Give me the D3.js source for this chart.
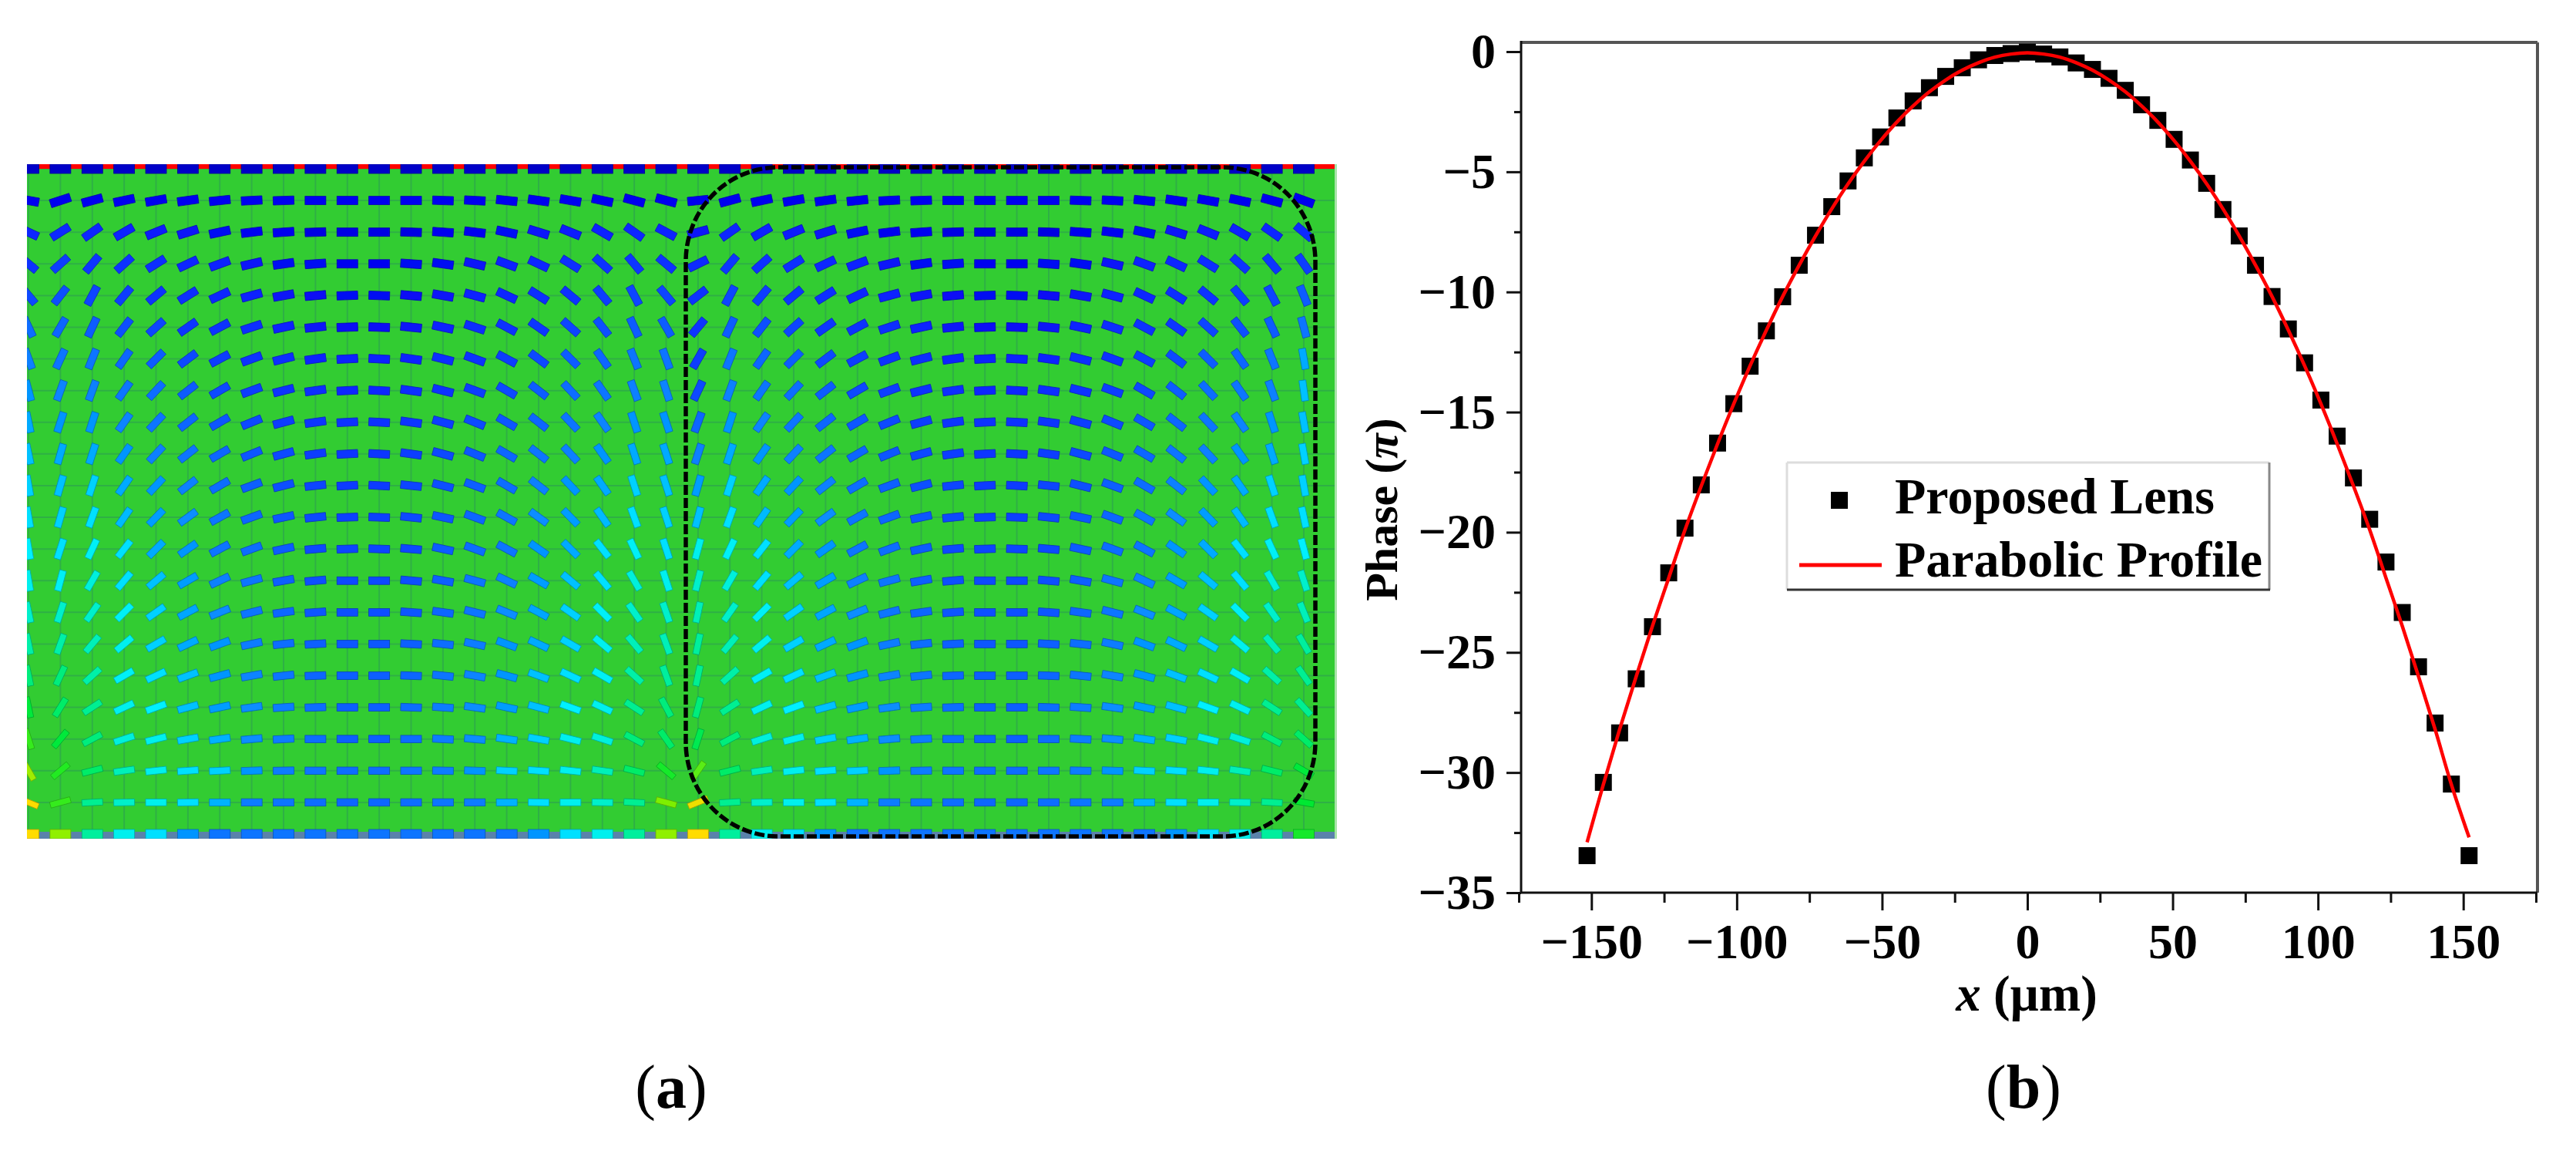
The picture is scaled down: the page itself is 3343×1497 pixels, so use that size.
<!DOCTYPE html>
<html><head><meta charset="utf-8">
<script src="https://cdn.jsdelivr.net/npm/d3@7/dist/d3.min.js"></script>
<style>
html,body{margin:0;padding:0;background:#fff}
text{font-family:"Liberation Serif","Times New Roman",serif;fill:#000}
</style></head><body>
<svg id="c" width="3343" height="1497" viewBox="0 0 3343 1497"></svg>
<script>
// ---------- panel (b) data ----------
const lensX = [-151.5,-145.9,-140.3,-134.6,-129.0,-123.4,-117.8,-112.2,-106.6,-101.0,-95.4,-89.8,-84.2,-78.5,-72.9,-67.3,-61.7,-56.1,-50.5,-44.9,-39.3,-33.7,-28.1,-22.4,-16.8,-11.2,-5.6,0,5.6,11.2,16.8,22.4,28.1,33.7,39.3,44.9,50.5,56.1,61.7,67.3,72.9,78.5,84.2,89.8,95.4,101.0,106.6,112.2,117.8,123.4,129.0,134.6,140.3,145.9,152.0];
const lensPhase = [-33.46,-30.41,-28.35,-26.10,-23.93,-21.69,-19.83,-18.03,-16.29,-14.65,-13.09,-11.62,-10.20,-8.89,-7.64,-6.45,-5.38,-4.42,-3.55,-2.76,-2.05,-1.50,-1.03,-0.67,-0.34,-0.16,-0.08,-0.02,-0.10,-0.22,-0.47,-0.74,-1.11,-1.61,-2.21,-2.86,-3.65,-4.51,-5.48,-6.57,-7.67,-8.89,-10.19,-11.54,-12.95,-14.50,-16.00,-17.74,-19.46,-21.24,-23.34,-25.60,-27.94,-30.48,-33.46];
const profileX = lensX;
const profilePhase = [-32.9,-30.5,-28.2,-26.0,-23.9,-21.9,-19.9,-18.07,-16.32,-14.65,-13.07,-11.59,-10.19,-8.88,-7.67,-6.54,-5.50,-4.56,-3.70,-2.93,-2.26,-1.67,-1.18,-0.77,-0.46,-0.23,-0.10,-0.05,-0.10,-0.23,-0.46,-0.77,-1.18,-1.67,-2.26,-2.93,-3.70,-4.56,-5.50,-6.54,-7.67,-8.88,-10.19,-11.59,-13.07,-14.65,-16.32,-18.07,-19.9,-21.9,-23.9,-26.0,-28.2,-30.5,-32.7];
const xMajor = [-150,-100,-50,0,50,100,150];
const xMinor = [-175,-125,-75,-25,25,75,125,175];
const yMajor = [0,-5,-10,-15,-20,-25,-30,-35];
const yMinor = [-2.5,-7.5,-12.5,-17.5,-22.5,-27.5,-32.5];
const legendLabels = ["Proposed Lens","Parabolic Profile"];

// ---------- panel (a) data: tilt in degrees and colour level of each antenna ----------
// one row per grid row, ten columns for the left half of a cell (the right half mirrors them)
const tiltRows = [
[0,0,0,0,0,0,0,0,0,0],
[6,15,12,10,8,6,3,2,0,0],
[15,35,30,22,17,12,7,4,2,0],
[26,50,42,32,25,20,13,8,4,0],
[38,62,50,40,32,25,15,10,5,2],
[50,65,52,42,35,28,18,12,6,2],
[60,68,55,45,37,28,20,14,8,3],
[65,70,55,47,38,30,20,14,8,3],
[70,72,55,47,38,30,22,15,8,3],
[72,72,55,47,38,30,22,15,8,3],
[74,72,55,47,38,30,20,14,6,3],
[75,70,55,46,36,29,20,12,6,2],
[75,65,52,45,35,28,20,12,5,2],
[76,60,50,40,30,25,15,10,5,0],
[78,55,45,35,28,22,14,8,4,0],
[78,50,40,30,25,20,12,6,3,0],
[78,42,30,25,20,15,10,6,2,0],
[75,33,25,20,15,12,8,4,2,0],
[72,28,18,14,10,8,5,3,0,0],
[55,14,8,6,4,3,2,1,0,0],
[22,3,1,0,1,0,0,0,0,0],
[0,0,0,0,0,0,0,0,0,0]];
const levelRows = [
[0,0,0,0,0,0,0,0,0,0],
[.03,.03,.03,.03,.03,.03,.03,.03,.03,.03],
[.08,.15,.12,.1,.08,.05,.03,.03,.02,.02],
[.16,.22,.2,.18,.15,.12,.08,.05,.04,.03],
[.2,.28,.25,.2,.18,.15,.12,.08,.06,.05],
[.22,.35,.32,.28,.22,.2,.18,.12,.08,.06],
[.25,.42,.38,.35,.3,.25,.2,.18,.14,.12],
[.3,.45,.42,.4,.35,.3,.25,.2,.18,.15],
[.38,.5,.46,.42,.38,.34,.3,.25,.22,.2],
[.45,.55,.5,.45,.42,.38,.34,.3,.25,.22],
[.52,.6,.55,.5,.45,.4,.36,.32,.28,.24],
[.58,.62,.57,.52,.48,.42,.38,.34,.3,.26],
[.66,.65,.62,.55,.5,.42,.4,.35,.3,.28],
[.7,.68,.62,.58,.52,.45,.42,.36,.32,.3],
[.72,.7,.65,.6,.54,.48,.42,.38,.34,.32],
[.75,.72,.66,.6,.55,.5,.44,.4,.36,.34],
[.76,.74,.65,.62,.58,.5,.46,.42,.38,.36],
[.78,.76,.66,.64,.58,.52,.48,.44,.4,.36],
[.82,.78,.68,.66,.6,.56,.48,.44,.4,.36],
[.9,.8,.72,.66,.62,.6,.5,.44,.42,.4],
[.99,.76,.7,.66,.62,.56,.44,.42,.4,.38],
[1,.75,.66,.62,.5,.42,.42,.42,.42,.42]];
// columns that do not follow the repeating cell
const tiltEdge = {
 0:[0,-10,-25,-40,-50,-65,-70,-75,-78,-78,-80,-80,-80,-80,-78,-78,-78,-78,-72,-60,-22,0],
 1:[0,18,32,42,52,60,65,70,72,74,74,74,72,75,72,70,65,58,50,40,15,0],
 20:[0,-15,-28,-40,-50,-60,-70,-72,-72,-72,-72,-72,-72,-72,-71,-70,-70,-62,-55,-40,-15,0],
 40:[0,-20,-40,-55,-68,-75,-80,-82,-80,-80,-80,-78,-75,-72,-68,-60,-55,-48,-42,-30,-10,0]};
const levelEdge = {
 0:[0,.03,.15,.2,.3,.4,.45,.5,.55,.58,.6,.62,.64,.66,.7,.74,.78,.84,.88,.94,1,1],
 1:[0,.03,.17,.25,.32,.38,.42,.46,.5,.55,.58,.6,.62,.65,.7,.74,.78,.8,.84,.87,.88,.93],
 20:[0,.03,.14,.2,.28,.35,.42,.46,.5,.55,.58,.6,.62,.66,.7,.72,.75,.78,.8,.86,.92,.93],
 40:[0,.03,.17,.25,.35,.42,.55,.58,.58,.6,.6,.62,.64,.7,.72,.75,.76,.76,.8,.84,.85,.86]};
const columns = d3.range(0,41);
const rows = d3.range(0,22);
const levelStops = [0,.03,.12,.3,.45,.55,.64,.74,.85,.93,1];
const levelColors = ["#0000c8","#0505f0","#0a20ff","#0a48ff","#0a80ff","#00aaff","#00f0ff","#00f0a8","#00e830","#90f000","#ffdc00"];

// ---------- drawing ----------
const svg = d3.select("#c");
const defs = svg.append("defs");
defs.append("filter").attr("id","soft").attr("x","-5%").attr("y","-5%").attr("width","110%").attr("height","110%")
  .append("feGaussianBlur").attr("stdDeviation",0.6);
defs.append("clipPath").attr("id","panel").append("rect").attr("x",35).attr("y",213).attr("width",1700).attr("height",875);

const colX = d3.scaleLinear().domain([0,40]).range([37,1692]);
const rowY = d3.scaleLinear().domain([0,21]).range([219,1082]);
const levelColor = d3.scaleLinear().domain(levelStops).range(levelColors);

function cellIndex(c){const k=((c-1)%20+20)%20; return k<10?k:19-k;}
function tiltAt(r,c){ if(tiltEdge[c]) return tiltEdge[c][r]; const k=((c-1)%20+20)%20; return (k<10?1:-1)*tiltRows[r][cellIndex(c)]; }
function levelAt(r,c){ return levelEdge[c]?levelEdge[c][r]:levelRows[r][cellIndex(c)]; }

const a = svg.append("g").attr("clip-path","url(#panel)").attr("filter","url(#soft)");
a.append("rect").attr("x",35).attr("y",213).attr("width",1700).attr("height",875).attr("fill","#33cc33");
a.selectAll("line.gv").data(columns).join("line").attr("x1",colX).attr("x2",colX).attr("y1",219).attr("y2",1088)
  .attr("stroke","#2fb045").attr("stroke-width",2);
a.selectAll("line.gh").data(rows).join("line").attr("y1",rowY).attr("y2",rowY).attr("x1",35).attr("x2",1735)
  .attr("stroke","#2fb045").attr("stroke-width",2);
a.append("rect").attr("x",35).attr("y",213).attr("width",1700).attr("height",6).attr("fill","#ff0000");
a.append("rect").attr("x",35).attr("y",1079).attr("width",1700).attr("height",9).attr("fill","#5a82ab");
a.append("rect").attr("x",1732).attr("y",213).attr("width",3).attr("height",875).attr("fill","#a8e4a8");

const cells = rows.flatMap(r=>columns.map(c=>({r,c,tilt:tiltAt(r,c),level:levelAt(r,c)})));
const thick = d => (d.r===0||d.r===21) ? 12 : 11-3.5*d.level;
a.selectAll("rect.bar").data(cells).join("rect").attr("class","bar")
  .attr("x",-13.5).attr("width",27)
  .attr("y",d=>-thick(d)/2)
  .attr("height",thick)
  .attr("transform",d=>`translate(${colX(d.c)},${rowY(d.r)}) rotate(${-d.tilt})`)
  .attr("fill",d=>levelColor(d.level))
  .attr("stroke",d=>d3.color(levelColor(d.level)).darker(.9))
  .attr("stroke-width",0.8);

svg.append("rect").attr("x",890).attr("y",217).attr("width",817).attr("height",868).attr("rx",120).attr("ry",122)
  .attr("fill","none").attr("stroke","#000").attr("stroke-width",5.5).attr("stroke-dasharray","13 4");

// panel (b)
const L=1974,R=3293,T=55,B=1158;
const x = d3.scaleLinear().domain([-175,175]).range([L-3,R-2]);
const y = d3.scaleLinear().domain([0,-35]).range([67,B]);
const b = svg.append("g");
const tickFmt = v => String(v).replace("-","\u2212");
const fs = 64;
function styleAxis(g){ g.select(".domain").remove(); g.selectAll(".tick line").attr("stroke","#111").attr("stroke-width",3);
  g.selectAll("text").attr("font-size",fs).attr("font-weight","bold").attr("font-family",'"Liberation Serif",serif').attr("fill","#000"); }
b.append("g").attr("transform",`translate(0,${B})`).call(d3.axisBottom(x).tickValues(xMinor).tickSize(13).tickFormat("")).call(styleAxis);
b.append("g").attr("transform",`translate(0,${B})`).call(d3.axisBottom(x).tickValues(xMajor).tickSize(23).tickPadding(17).tickFormat(tickFmt)).call(styleAxis);
b.append("g").attr("transform",`translate(${L},0)`).call(d3.axisLeft(y).tickValues(yMinor).tickSize(9).tickFormat("")).call(styleAxis);
b.append("g").attr("transform",`translate(${L},0)`).call(d3.axisLeft(y).tickValues(yMajor).tickSize(19).tickPadding(14).tickFormat(tickFmt)).call(styleAxis);
b.append("line").attr("x1",L).attr("x2",R).attr("y1",T).attr("y2",T).attr("stroke","#555").attr("stroke-width",4);
b.append("line").attr("x1",R).attr("x2",R).attr("y1",T).attr("y2",B).attr("stroke","#555").attr("stroke-width",4);
b.append("line").attr("x1",L).attr("x2",L).attr("y1",T-2).attr("y2",B).attr("stroke","#111").attr("stroke-width",3);
b.append("line").attr("x1",L).attr("x2",R).attr("y1",B).attr("y2",B).attr("stroke","#111").attr("stroke-width",3);

const sq = 22;
b.selectAll("rect.pt").data(lensX.map((v,i)=>[v,lensPhase[i]])).join("rect").attr("class","pt")
  .attr("x",d=>x(d[0])-sq/2).attr("y",d=>y(d[1])-sq/2).attr("width",sq).attr("height",sq).attr("fill","#000");
b.append("path").attr("d",d3.line().x(d=>x(d[0])).y(d=>y(d[1])).curve(d3.curveCatmullRom)(profileX.map((v,i)=>[v,profilePhase[i]])))
  .attr("fill","none").attr("stroke","#ff0000").attr("stroke-width",4.5);

// legend
const lg = b.append("g");
lg.append("line").attr("x1",2319).attr("x2",2945).attr("y1",600).attr("y2",600).attr("stroke","#ddd").attr("stroke-width",3);
lg.append("line").attr("x1",2319).attr("x2",2319).attr("y1",600).attr("y2",765).attr("stroke","#ddd").attr("stroke-width",3);
lg.append("line").attr("x1",2945).attr("x2",2945).attr("y1",600).attr("y2",765).attr("stroke","#888").attr("stroke-width",3);
lg.append("line").attr("x1",2319).attr("x2",2946).attr("y1",765).attr("y2",765).attr("stroke","#333").attr("stroke-width",3);
lg.append("rect").attr("x",2376).attr("y",638).attr("width",22).attr("height",22).attr("fill","#000");
lg.append("line").attr("x1",2335).attr("x2",2442).attr("y1",733).attr("y2",733).attr("stroke","#ff0000").attr("stroke-width",5);
lg.selectAll("text").data(legendLabels).join("text").attr("x",2459).attr("y",(d,i)=>[666,748][i])
  .attr("font-size",66).attr("font-weight","bold").text(d=>d);

// axis titles
const xt = b.append("text").attr("x",2630).attr("y",1311).attr("text-anchor","middle").attr("font-size",65).attr("font-weight","bold");
xt.append("tspan").attr("font-style","italic").text("x");
xt.append("tspan").text(" (\u00b5m)");
const yt = b.append("text").attr("transform","translate(1813,661) rotate(-90)").attr("text-anchor","middle").attr("font-size",60).attr("font-weight","bold");
yt.append("tspan").text("Phase (");
yt.append("tspan").attr("font-style","italic").text("\u03c0");
yt.append("tspan").text(")");

// panel letters
[["a",871],["b",2626]].forEach(([t,px])=>{
  const p = svg.append("text").attr("x",px).attr("y",1437).attr("text-anchor","middle").attr("font-size",80);
  p.append("tspan").text("(");
  p.append("tspan").attr("font-weight","bold").text(t);
  p.append("tspan").text(")");
});
</script>
</body></html>
